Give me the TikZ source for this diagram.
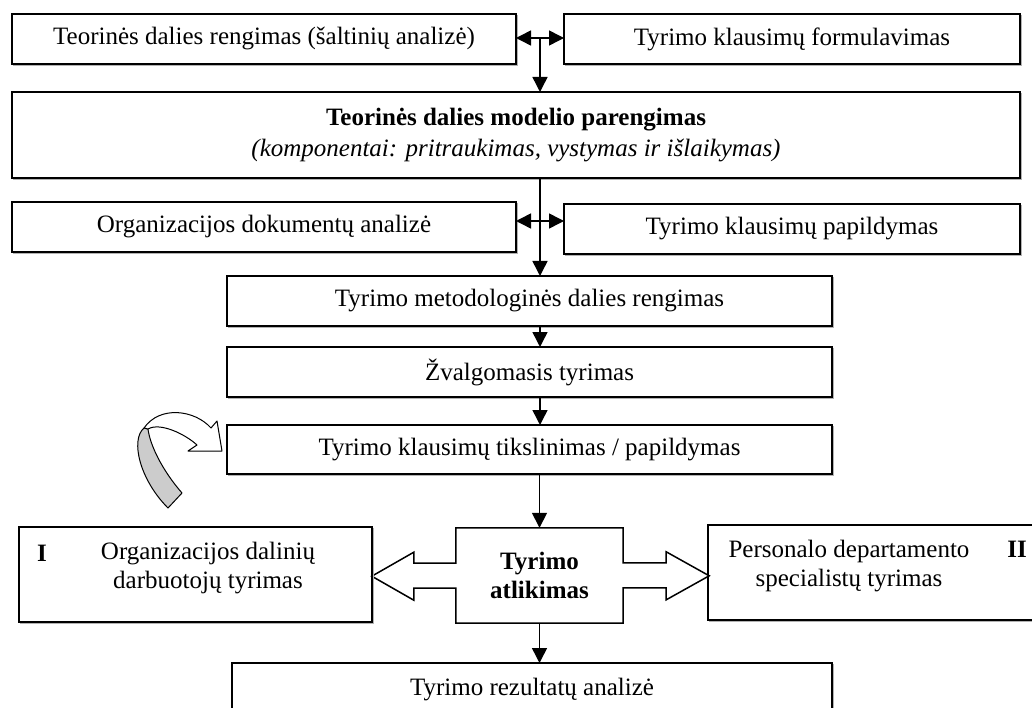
\documentclass[tikz,border=0pt]{standalone}
\usepackage{fontspec}
\setmainfont{Liberation Serif}
\usetikzlibrary{arrows.meta,calc}
\begin{document}
\begin{tikzpicture}[x=1pt,y=-1pt,
  txt/.style={font=\fontsize{25}{28.75}\selectfont, align=center, inner sep=0pt},
  box/.style={draw=black, line width=1.5pt, fill=white, inner sep=0pt, outer sep=0pt,
    font=\fontsize{25}{28.75}\selectfont, align=center},
  arr/.style={line width=1.5pt, -{Triangle[length=15pt,width=15pt]}},
  dbl/.style={line width=1.5pt, {Triangle[length=15pt,width=15pt]}-{Triangle[length=15pt,width=15pt]}},
  shade/.style={draw=gray!60, line width=1.2pt},
  ribbon/.style={draw=black, line width=1pt, line join=round}
]
\useasboundingbox (0,0) rectangle (1032,708);

% upper row of boxes
\node[box, minimum width=504pt, minimum height=50pt] (A) at (264,39) {Teorinės dalies rengimas (šaltinių analizė)};
\node[box, minimum width=456pt, minimum height=50pt] (B) at (792,39) {Tyrimo klausimų formulavimas};
\node[box, minimum width=1008pt, minimum height=86pt] (C) at (516,135)
  {\textbf{Teorinės dalies modelio parengimas}\\[2pt]\textit{(komponentai: pritraukimas, vystymas ir išlaikymas)}};
\node[box, minimum width=504pt, minimum height=50pt] (D) at (264,227) {Organizacijos dokumentų analizė};
\node[box, minimum width=456pt, minimum height=50pt] (E) at (792,229) {Tyrimo klausimų papildymas};

% central column
\node[box, minimum width=605pt, minimum height=50pt] (F) at (529.5,301) {Tyrimo metodologinės dalies rengimas};
\node[box, minimum width=605pt, minimum height=50pt] (Z) at (529.5,372) {Žvalgomasis tyrimas};
\node[box, minimum width=605pt, minimum height=49pt] (K) at (529.5,449.5) {Tyrimo klausimų tikslinimas / papildymas};

% research row
\node[box, minimum width=353pt, minimum height=95pt] (G) at (195.5,574.5) {};
\node[txt] (Gt) at (208,568) {Organizacijos dalinių\\darbuotojų tyrimas};
\node[txt, font=\fontsize{25}{28.75}\selectfont\bfseries] (Gn) at (42,553) {I};
\node[box, minimum width=332pt, minimum height=95pt] (J) at (874,572.5) {};
\node[txt] (Jt) at (849,566) {Personalo departamento\\specialistų tyrimas};
\node[txt, font=\fontsize{25}{28.75}\selectfont\bfseries] (Jn) at (1017,549) {II};

% centre box with its two block arrows, drawn as one outline
\node[minimum width=167pt, minimum height=95pt, inner sep=0pt] (H) at (539.5,575.5) {};
\draw[line width=1.5pt, fill=white, line join=miter]
  (H.north west) -- (H.north east) -- ++(0,35) -- ++(43,0) -- ++(0,-11) -- ++(43,24)
  -- ++(-43,24) -- ++(0,-12) -- ++(-43,0) -- (H.south east) -- (H.south west)
  -- ++(0,-35) -- ++(-42,0) -- ++(0,12) -- ++(-42,-24) -- ++(42,-24) -- ++(0,11)
  -- ++(42,0) -- cycle;
\node[txt, font=\fontsize{25}{28.75}\selectfont\bfseries] (Ht) at (H) {Tyrimo\\atlikimas};

\node[box, minimum width=600pt, minimum height=54pt] (I) at (532,690) {Tyrimo rezultatų analizė};

% light shadow along right and bottom edges
\foreach \n in {A,B,C,D,E,F,Z,K,G,J,I}{
  \draw[shade] ([xshift=1.6pt,yshift=-1pt]\n.north east) -- ([xshift=1.6pt,yshift=-1.6pt]\n.south east)
    -- ([xshift=1pt,yshift=-1.6pt]\n.south west);
}

% connectors
\coordinate (m1) at ($(A.east)!0.5!(B.west)$);
\draw[dbl] ([yshift=1pt]A.east) -- ([yshift=1pt]B.west);
\draw[arr] (m1) -- (m1 |- C.north);
\coordinate (m2) at ($(D.east)!0.5!(E.west)$);
\draw[dbl] ([yshift=6pt]D.east) -- ([yshift=8pt]E.west);
\draw[arr] (C.south -| m2) -- (F.north -| m2);
\draw[arr] (F.south -| m2) -- (Z.north -| m2);
\draw[arr] (Z.south -| m2) -- (K.north -| m2);
\draw[arr] (K.south -| H.north) -- (H.north);
\draw[arr] (H.south) -- (I.north -| H.south);

% curved ribbon arrow pointing at the refinement step
\draw[ribbon, fill=gray!40]
  (144,428) .. controls (130,440) and (140,480) .. (168,508) -- (182,493)
  .. controls (162,470) and (150,445) .. (148,429) -- cycle;
\draw[ribbon, fill=white]
  (144,428) .. controls (160,405) and (195,410) .. (211,428) -- (217,421) -- (222,451)
  -- (188,451) -- (197,445) .. controls (185,434) and (160,422) .. (148,429) -- cycle;
\end{tikzpicture}
\end{document}
